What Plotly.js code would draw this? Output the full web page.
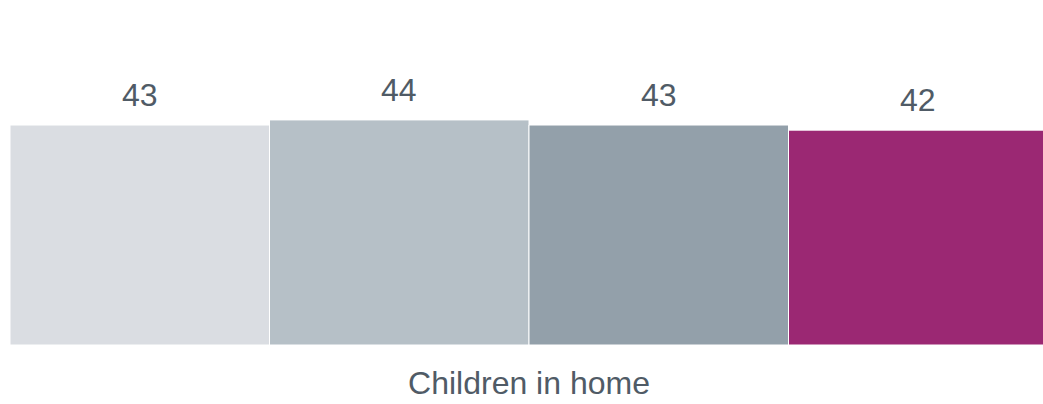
<!DOCTYPE html>
<html>
<head>
<meta charset="utf-8">
<script src="https://cdn.plot.ly/plotly-3.0.1.min.js"></script>
<style>html,body{margin:0;padding:0;background:#fff;overflow:hidden;}#chart{width:1043px;height:404px;overflow:hidden;}</style>
</head>
<body>
<div id="chart"></div>
<script>
var axisTitle = "Children in home";
var categories = ["Group 1", "Group 2", "Group 3", "Group 4"];
var seriesValues = [43, 44, 43, 42];
var seriesColors = ["#dadde2", "#b6c0c7", "#93a0aa", "#9b2873"];

var textColor = "#505b66";
var fontFamily = "Liberation Sans, Arial, sans-serif";

var traces = [{
  type: "bar",
  x: categories,
  y: seriesValues,
  marker: {color: seriesColors, line: {color: "#ffffff", width: 1}},
  hoverinfo: "none"
}];

var annotations = seriesValues.map(function (v, i) {
  return {
    x: categories[i], y: v, xref: "x", yref: "y",
    text: String(v), showarrow: false,
    xanchor: "center", yanchor: "bottom", yshift: 10,
    font: {family: fontFamily, size: 32, color: textColor}
  };
});

var layout = {
  width: 1048,
  height: 404,
  margin: {l: 10, r: 0, t: 0, b: 59},
  paper_bgcolor: "#ffffff",
  plot_bgcolor: "#ffffff",
  bargap: 0,
  showlegend: false,
  font: {family: fontFamily, color: textColor},
  annotations: annotations,
  xaxis: {
    showgrid: false, zeroline: false, showline: false, ticks: "",
    showticklabels: false, automargin: false,
    title: {text: axisTitle, font: {size: 32, color: textColor}, standoff: 26}
  },
  yaxis: {
    range: [0, 67.44], visible: false, showgrid: false, zeroline: false
  }
};

Plotly.newPlot("chart", traces, layout, {displayModeBar: false, staticPlot: true});
</script>
</body>
</html>
